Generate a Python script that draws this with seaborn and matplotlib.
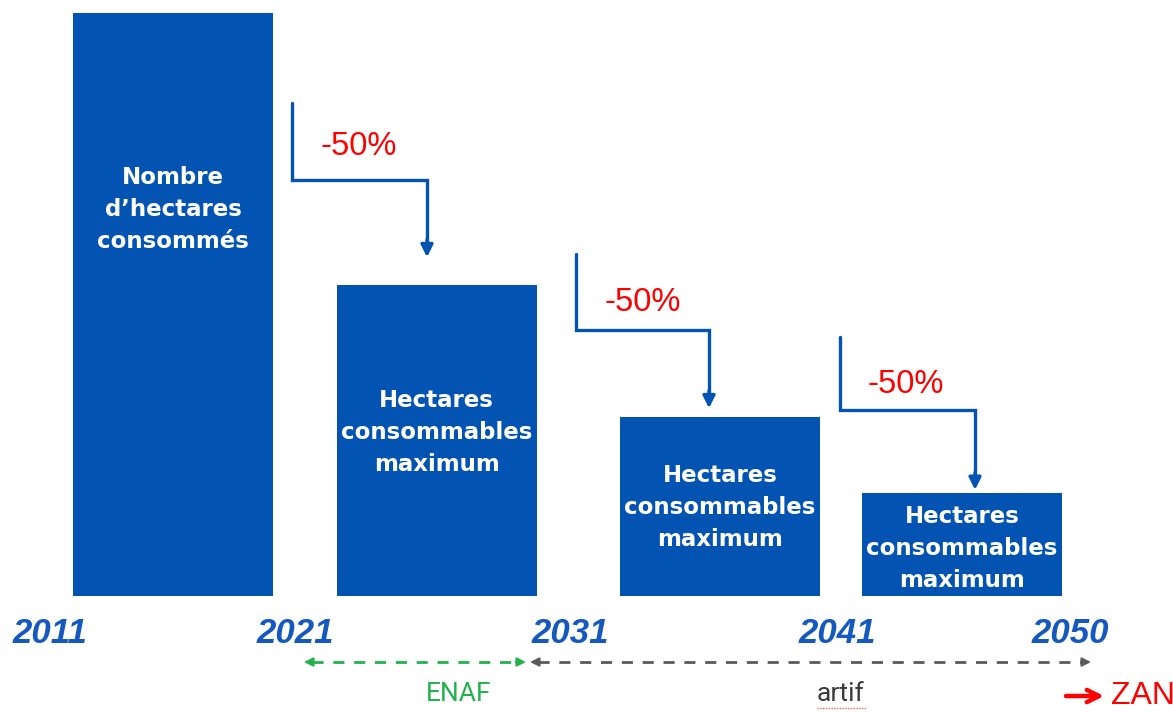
"""ZAN trajectory: hectares consumed per decade, halved each period."""

import matplotlib.pyplot as plt
import seaborn as sns

# data
periods = ["2011-2021", "2021-2031", "2031-2041", "2041-2050"]
hectares = [100, 53.3, 30.7, 17.7]
bar_labels = [
    "Nombre\nd\u2019hectares\nconsommés",
    "Hectares\nconsommables\nmaximum",
    "Hectares\nconsommables\nmaximum",
    "Hectares\nconsommables\nmaximum",
]
bar_label_y = [66.2, 28.1, 15.1, 8.1]
years = ["2011", "2021", "2031", "2041", "2050"]
reduction_labels = ["-50%", "-50%", "-50%"]

# layout (horizontal units ~ pixels)
bar_centers = [173, 436.5, 720, 962]
bar_width = 200
year_pos = [50, 295, 570, 837, 1070]
# step arrows: (x_start, y_top, y_mid, x_end, y_end), label position
steps = [
    (292, 84.6, 71.4, 427, 58.1),
    (576, 58.7, 45.6, 709, 32.2),
    (840, 44.4, 31.9, 975, 18.2),
]
step_label_xy = [(359, 77.0), (643, 50.3), (906, 36.2)]

BLUE = "#0354B2"
YEAR_BLUE = "#1558BE"
GREEN = "#22B14C"
GREY = "#5A5A5A"
RED = "#FF0000"
PX = 5.83  # pixels per unit on y

sns.set_theme(style="white")
plt.rcParams["font.family"] = ["Liberation Sans", "DejaVu Sans"]

fig = plt.figure(figsize=(11.73, 7.12), dpi=100)
ax = fig.add_axes([0, 116 / 712, 1, 596 / 712])

sns.barplot(x=bar_centers, y=hectares, native_scale=True, color=BLUE,
            saturation=1, width=bar_width / 242, linewidth=0, ax=ax)
ax.set_xlim(0, 1173)
ax.set_ylim(0, 102.2)

for xc, yl, txt in zip(bar_centers, bar_label_y, bar_labels):
    ax.text(xc, yl, txt, color="white", ha="center", va="center",
            fontsize=16.5, fontweight="bold", family="DejaVu Sans",
            linespacing=1.5)

# step arrows with -50%
for (x0, y0, ym, x1, y1), (lx, ly), lab in zip(steps, step_label_xy, reduction_labels):
    ax.plot([x0, x0, x1, x1], [y0, ym, ym, y1 + 2], color=BLUE, lw=2.4,
            solid_joinstyle="miter")
    ax.annotate("", xy=(x1, y1), xytext=(x1, y1 + 3),
                arrowprops=dict(arrowstyle="-|>", color=BLUE, lw=2.4,
                                mutation_scale=18, shrinkA=0, shrinkB=0))
    ax.text(lx, ly, lab, color=RED, fontsize=23.5, ha="center", va="center")

# year ticks
ax.set_xticks(year_pos)
ax.set_xticklabels(years, fontsize=25, fontweight="bold", fontstyle="italic",
                   color=YEAR_BLUE)
ax.tick_params(axis="x", length=0, pad=15)
ax.set_yticks([])
sns.despine(ax=ax, left=True, bottom=True)


def dashed_span(xa, xb, y, color):
    ax.plot([xa + 8, xb - 8], [y, y], color=color, lw=2, ls=(0, (4, 3.5)),
            clip_on=False)
    for xs, xe in ((xa + 10, xa), (xb - 10, xb)):
        ax.annotate("", xy=(xe, y), xytext=(xs, y), annotation_clip=False,
                    arrowprops=dict(arrowstyle="-|>", color=color, lw=1.5,
                                    mutation_scale=13, shrinkA=0, shrinkB=0))


y_span = -66 / PX
dashed_span(304, 526, y_span, GREEN)
dashed_span(530, 1091, y_span, GREY)

y_lab = -98 / PX
ax.text(459, y_lab, "ENAF", color=GREEN, fontsize=19, family="Roboto",
        ha="center", va="center", clip_on=False)
ax.text(841, y_lab, "artif", color="#3A3A3A", fontsize=19, family="Roboto",
        ha="center", va="center", clip_on=False)
ax.plot([817, 866], [-112 / PX] * 2, color="#FF6060", lw=1, ls=(0, (1, 1)),
        clip_on=False)

# -> ZAN
ax.annotate("", xy=(1104, -100 / PX), xytext=(1066, -100 / PX),
            annotation_clip=False,
            arrowprops=dict(arrowstyle="->", color=RED, lw=3.2,
                            mutation_scale=22, shrinkA=0, shrinkB=0))
ax.text(1111, -100 / PX, "ZAN", color=RED, fontsize=23, ha="left",
        va="center", clip_on=False)

fig.savefig("out.png", dpi=100)
plt.close(fig)
